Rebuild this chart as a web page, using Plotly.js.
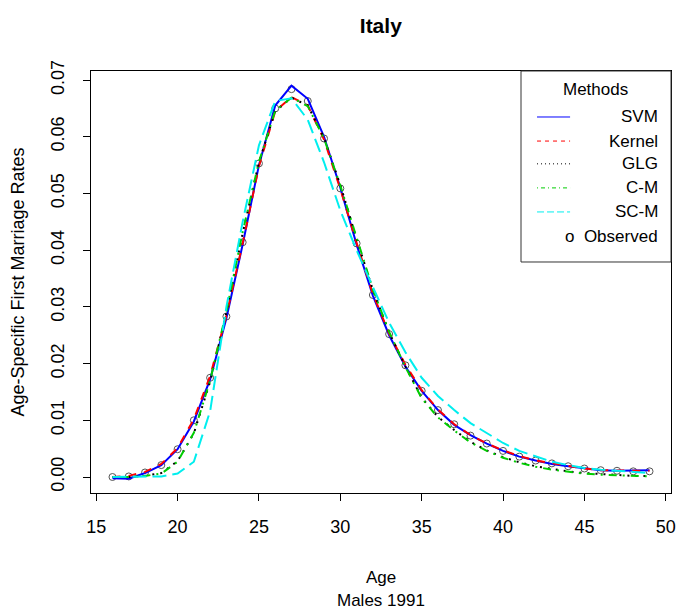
<!DOCTYPE html>
<html>
<head>
<meta charset="utf-8">
<script src="https://cdn.plot.ly/plotly-3.0.1.min.js"></script>
<style>html,body{margin:0;padding:0;background:#fff;}#chart{width:677px;height:609px;}</style>
</head>
<body>
<div id="chart"></div>
<script>
// ---- Data ----
const ages = [16,17,18,19,20,21,22,23,24,25,26,27,28,29,30,31,32,33,34,35,36,37,38,39,40,41,42,43,44,45,46,47,48,49];

const observed = [0.0000,0.0001,0.0008,0.0021,0.0049,0.0100,0.0175,0.0283,0.0414,0.0553,0.0650,0.0684,0.0663,0.0597,0.0509,0.0412,0.0321,0.0252,0.0197,0.0152,0.0118,0.0093,0.0073,0.0059,0.0046,0.0036,0.0029,0.0024,0.0019,0.0015,0.0012,0.0011,0.0010,0.0010];

const svm = [-0.0002,-0.0003,0.0007,0.0021,0.0049,0.0098,0.0172,0.0280,0.0410,0.0550,0.0655,0.0690,0.0667,0.0600,0.0510,0.0410,0.0320,0.0250,0.0195,0.0152,0.0118,0.0092,0.0074,0.0059,0.0046,0.0036,0.0029,0.0023,0.0019,0.0015,0.0012,0.0011,0.0011,0.0012];

const kernel = [0.0000,0.0002,0.0009,0.0023,0.0051,0.0102,0.0178,0.0285,0.0412,0.0548,0.0645,0.0670,0.0655,0.0595,0.0508,0.0413,0.0323,0.0253,0.0198,0.0153,0.0119,0.0093,0.0074,0.0059,0.0047,0.0037,0.0029,0.0024,0.0019,0.0015,0.0012,0.0011,0.0011,0.0011];

const glg = [0.0000,0.0000,0.0002,0.0007,0.0028,0.0077,0.0168,0.0290,0.0430,0.0555,0.0645,0.0669,0.0655,0.0598,0.0515,0.0420,0.0330,0.0255,0.0195,0.0140,0.0106,0.0083,0.0062,0.0047,0.0035,0.0026,0.0019,0.0014,0.0010,0.0007,0.0005,0.0003,0.0002,0.0002];

const cm = [0.0000,0.0000,0.0002,0.0006,0.0027,0.0078,0.0170,0.0292,0.0432,0.0556,0.0646,0.0669,0.0654,0.0597,0.0514,0.0421,0.0331,0.0256,0.0194,0.0139,0.0105,0.0082,0.0061,0.0046,0.0034,0.0025,0.0018,0.0013,0.0009,0.0006,0.0004,0.0003,0.0002,0.0001];

const scm = [0.0000,0.0000,0.0000,0.0001,0.0006,0.0027,0.0116,0.0300,0.0450,0.0585,0.0663,0.0668,0.0630,0.0555,0.0470,0.0400,0.0335,0.0272,0.0220,0.0175,0.0143,0.0118,0.0095,0.0077,0.0060,0.0046,0.0036,0.0027,0.0021,0.0016,0.0013,0.0011,0.0009,0.0007];

const methodNames = ["SVM","Kernel","GLG","C-M","SC-M"];
const xTicks = [15,20,25,30,35,40,45,50];
const yTicks = [0.00,0.01,0.02,0.03,0.04,0.05,0.06,0.07];
const yTickText = ["0.00","0.01","0.02","0.03","0.04","0.05","0.06","0.07"];

// ---- Styles ----
const FONT = "Liberation Sans, Arial, sans-serif";
const styles = [
  {color:"#0000FF", dash:"solid"},
  {color:"#FF0000", dash:"8px,8px"},
  {color:"#000000", dash:"2px,6px"},
  {color:"#00CD00", dash:"2px,6px,8px,6px"},
  {color:"#00EEEE", dash:"14px,6px"}
];
const series = [svm, kernel, glg, cm, scm];

const traces = [{
  x: ages, y: observed, type:"scatter", mode:"markers", name:"Observed",
  marker:{symbol:"circle-open", size:7, color:"#555555", line:{width:1, color:"#555555"}},
  showlegend:false, hoverinfo:"x+y"
}];
series.forEach((s,i)=>{
  traces.push({x: ages, y: s, type:"scatter", mode:"lines", name: methodNames[i],
    line:{color: styles[i].color, dash: styles[i].dash, width:2}, showlegend:false});
});

// ---- Custom R-style legend (paper coordinates) ----
const L = {x0:0.7414, x1:1.0, y0:0.5474, y1:1.0};
const entryY = [0.891,0.834,0.780,0.723,0.666];
const shapes = [{type:"rect", xref:"paper", yref:"paper", x0:L.x0, x1:L.x1, y0:L.y0, y1:L.y1,
  line:{color:"#333333", width:1}, fillcolor:"rgba(255,255,255,1)", layer:"above"}];
const annotations = [{xref:"paper", yref:"paper", x:0.869, y:0.957, text:"Methods", showarrow:false,
  xanchor:"center", yanchor:"middle", font:{family:FONT, size:17, color:"#000"}}];
methodNames.forEach((n,i)=>{
  shapes.push({type:"line", xref:"paper", yref:"paper", x0:0.769, x1:0.826, y0:entryY[i], y1:entryY[i],
    line:{color: styles[i].color, width:1, dash: styles[i].dash==="solid"?"solid":styles[i].dash.replace(/(\d+)px/g,(m,a)=>Math.max(1,Math.round(a/2))+"px")}, layer:"above"});
  annotations.push({xref:"paper", yref:"paper", x:0.981, y:entryY[i], text:n, showarrow:false,
    xanchor:"right", yanchor:"middle", font:{family:FONT, size:17, color:"#000"}});
});
annotations.push({xref:"paper", yref:"paper", x:0.981, y:0.609, text:"o  Observed", showarrow:false,
  xanchor:"right", yanchor:"middle", font:{family:FONT, size:17, color:"#000"}});
annotations.push({xref:"paper", yref:"paper", x:0.5, y:-0.255, text:"Males 1991", showarrow:false,
  xanchor:"center", yanchor:"middle", font:{family:FONT, size:17, color:"#000"}});

const layout = {
  width:677, height:609,
  margin:{l:91, r:6, t:71, b:116},
  paper_bgcolor:"#fff", plot_bgcolor:"#fff",
  font:{family:FONT, color:"#000"},
  title:{text:"<b>Italy</b>", x:0.5625, xanchor:"center", y:0.958, yanchor:"middle", font:{family:FONT, size:21, color:"#000"}},
  xaxis:{range:[14.68,50.32], tickvals:xTicks, ticktext:xTicks.map(String), ticks:"outside", ticklen:7,
    tickcolor:"#000", tickwidth:1, showline:true, mirror:true, linecolor:"#000", linewidth:1,
    showgrid:false, zeroline:false, tickfont:{family:FONT, size:18, color:"#000"},
    ticklabelstandoff:10,
    title:{text:"Age", font:{family:FONT, size:17, color:"#000"}, standoff:35}},
  yaxis:{range:[-0.00282,0.0716], tickvals:yTicks, ticktext:yTickText, ticks:"outside", ticklen:7,
    tickcolor:"#000", tickwidth:1, showline:true, mirror:true, linecolor:"#000", linewidth:1,
    showgrid:false, zeroline:false, tickangle:-90, tickfont:{family:FONT, size:18, color:"#000"},
    ticklabelstandoff:12,
    title:{text:"Age-Specific First Marriage Rates", font:{family:FONT, size:18, color:"#000"}, standoff:18}},
  shapes: shapes,
  annotations: annotations,
  showlegend:false
};

Plotly.newPlot("chart", traces, layout, {displayModeBar:false, staticPlot:true});
</script>
</body>
</html>
